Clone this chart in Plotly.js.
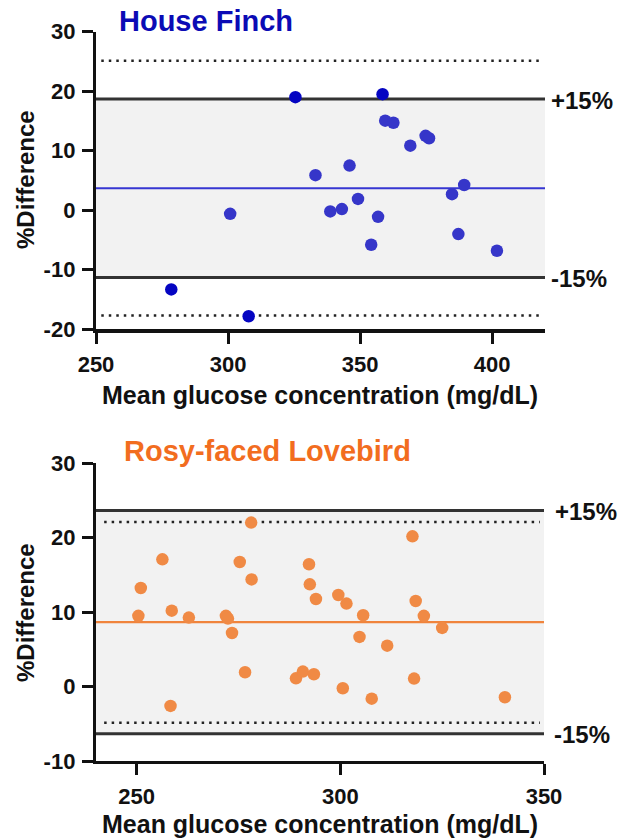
<!DOCTYPE html>
<html>
<head>
<meta charset="utf-8">
<script src="https://cdn.plot.ly/plotly-3.0.1.min.js"></script>
<style>html,body{margin:0;padding:0;background:#fff;}#chart{width:626px;height:840px;}</style>
</head>
<body>
<div id="chart"></div>
<script>
// ---- Data ----
const finchX = [278.5, 300.8, 307.8, 325.5, 333.1, 338.7, 343.1, 346.0, 349.2, 354.2, 356.8, 358.5, 359.5, 362.6, 369.0, 374.8, 376.1, 384.8, 389.4, 387.2, 401.8];
const finchY = [-13.3, -0.6, -17.8, 19.0, 5.9, -0.2, 0.2, 7.5, 1.9, -5.8, -1.1, 19.5, 15.05, 14.7, 10.85, 12.5, 12.1, 2.7, 4.25, -4.0, -6.8];
const finchMean = 3.7;
const finchLoA = [-17.7, 25.1];
const finchBand = [-11.3, 18.7];

const loveX = [250.4, 251.0, 256.3, 258.3, 258.6, 262.8, 271.9, 272.4, 273.4, 275.3, 276.6, 278.1, 278.2, 289.1, 290.8, 292.3, 292.5, 293.5, 294.0, 299.5, 300.6, 301.5, 304.7, 305.6, 307.7, 311.5, 317.7, 318.1, 318.5, 320.5, 325.0, 340.4];
const loveY = [9.5, 13.25, 17.1, -2.6, 10.2, 9.27, 9.5, 9.13, 7.2, 16.74, 1.92, 22.03, 14.4, 1.11, 2.01, 16.43, 13.74, 1.65, 11.77, 12.31, -0.23, 11.15, 6.67, 9.58, -1.62, 5.5, 20.19, 1.07, 11.5, 9.5, 7.88, -1.44];
const loveMean = 8.65;
const loveLoA = [-4.85, 22.1];
const loveBand = [-6.35, 23.65];

const bandLabels = ['-15%', '+15%'];
const finchXTicks = [250, 300, 350, 400];
const finchYTicks = [-20, -10, 0, 10, 20, 30];
const loveXTicks = [250, 300, 350];
const loveYTicks = [-10, 0, 10, 20, 30];
const finchXRange = [250, 420];
const finchYRange = [-20, 30];
const loveXRange = [240, 350];
const loveYRange = [-10, 30];

const titles = ['House Finch', 'Rosy-faced Lovebird'];
const xTitle = 'Mean glucose concentration (mg/dL)';
const yTitle = '%Difference';

// ---- Styles ----
const FONT = 'Liberation Sans, Arial, Helvetica, sans-serif';
const blueIn = '#3636c9', blueOut = '#0505c2', blueTitle = '#0b0bb5', blueLine = '#3636d2';
const orangePt = '#f08a45', orangeTitle = '#f26d1f', orangeLine = '#f0843c';
const W = 626, H = 840;

function colorFor(y, band, inside, outside) {
  return (y > band[1] || y < band[0]) ? outside : inside;
}

const traces = [
  {
    x: finchX, y: finchY, type: 'scatter', mode: 'markers', xaxis: 'x', yaxis: 'y',
    marker: {size: 12.5, color: finchY.map(v => colorFor(v, finchBand, blueIn, blueOut))},
    hoverinfo: 'skip', showlegend: false
  },
  {
    x: loveX, y: loveY, type: 'scatter', mode: 'markers', xaxis: 'x2', yaxis: 'y2',
    marker: {size: 12.5, color: loveY.map(v => colorFor(v, loveBand, orangePt, orangePt))},
    hoverinfo: 'skip', showlegend: false
  }
];

function hline(xr, yr, y, x0, x1, color, width, dash) {
  return {type: 'line', xref: xr, yref: yr, x0: x0, x1: x1, y0: y, y1: y,
          line: {color: color, width: width, dash: dash || 'solid'}, layer: 'below'};
}

const DOTS = '2.5px,5px';
const shapes = [
  {type: 'rect', xref: 'x', yref: 'y', x0: finchXRange[0], x1: finchXRange[1], y0: finchBand[0], y1: finchBand[1],
   fillcolor: '#f2f2f2', line: {width: 0}, layer: 'below'},
  hline('x', 'y', finchBand[1], finchXRange[0], finchXRange[1], '#333333', 3),
  hline('x', 'y', finchBand[0], finchXRange[0], finchXRange[1], '#333333', 3),
  hline('x', 'y', finchMean, finchXRange[0], finchXRange[1], blueLine, 2.2),
  hline('x', 'y', finchLoA[1], finchXRange[0] + 2, finchXRange[1] - 1, '#222222', 2.5, DOTS),
  hline('x', 'y', finchLoA[0], finchXRange[0] + 2, finchXRange[1] - 1, '#222222', 2.5, DOTS),

  {type: 'rect', xref: 'x2', yref: 'y2', x0: loveXRange[0], x1: loveXRange[1], y0: loveBand[0], y1: loveBand[1],
   fillcolor: '#f2f2f2', line: {width: 0}, layer: 'below'},
  hline('x2', 'y2', loveBand[1], loveXRange[0], loveXRange[1], '#333333', 3),
  hline('x2', 'y2', loveBand[0], loveXRange[0], loveXRange[1], '#333333', 3),
  hline('x2', 'y2', loveMean, loveXRange[0], loveXRange[1], orangeLine, 2.2),
  hline('x2', 'y2', loveLoA[1], loveXRange[0] + 2, loveXRange[1] - 1, '#222222', 2.5, DOTS),
  hline('x2', 'y2', loveLoA[0], loveXRange[0] + 2, loveXRange[1] - 1, '#222222', 2.5, DOTS)
];

const tickFont = {family: FONT, size: 22, color: '#111', weight: 'bold'};
function axis(range, ticks, domain, anchor) {
  return {
    range: range, domain: domain, anchor: anchor, tickmode: 'array', tickvals: ticks,
    ticktext: ticks.map(String), showgrid: false, zeroline: false, showline: true,
    linecolor: '#111', linewidth: 3.2, ticks: 'outside', ticklen: 11, tickwidth: 3, tickcolor: '#111',
    tickfont: tickFont, fixedrange: true, ticklabelstandoff: 2
  };
}

const xDom = [96 / W, 545 / W];
const yDomTop = [1 - 329.3 / H, 1 - 31.7 / H];
const yDomBot = [1 - 761 / H, 1 - 463.3 / H];

function txt(text, x, y, size, color, extra) {
  return Object.assign({text: text, x: x, y: y, xref: 'paper', yref: 'paper', showarrow: false,
    font: {family: FONT, size: size, color: color, weight: 'bold'}, xanchor: 'center', yanchor: 'middle'}, extra || {});
}

const annotations = [
  txt(titles[0], 117 / W, 1 - 21 / H, 29, blueTitle, {xanchor: 'left'}),
  txt(titles[1], 122 / W, 1 - 451 / H, 29, orangeTitle, {xanchor: 'left'}),
  txt(xTitle, 320 / W, 1 - 395 / H, 25, '#111'),
  txt(xTitle, 320 / W, 1 - 824 / H, 25, '#111'),
  txt(yTitle, 25 / W, 1 - 180 / H, 24, '#111', {textangle: -90}),
  txt(yTitle, 25 / W, 1 - 613 / H, 24, '#111', {textangle: -90}),
  txt(bandLabels[1], 549 / W, finchBand[1], 24, '#111', {xanchor: 'left', yref: 'y', yshift: -2}),
  txt(bandLabels[0], 549 / W, finchBand[0], 24, '#111', {xanchor: 'left', yref: 'y', yshift: -1}),
  txt(bandLabels[1], 553 / W, loveBand[1], 24, '#111', {xanchor: 'left', yref: 'y2', yshift: -1}),
  txt(bandLabels[0], 552 / W, loveBand[0], 24, '#111', {xanchor: 'left', yref: 'y2', yshift: -1})
];

const layout = {
  width: W, height: H,
  margin: {l: 0, r: 0, t: 0, b: 0},
  paper_bgcolor: '#ffffff', plot_bgcolor: 'rgba(0,0,0,0)',
  showlegend: false,
  xaxis: axis(finchXRange, finchXTicks, xDom, 'y'),
  yaxis: axis(finchYRange, finchYTicks, yDomTop, 'x'),
  xaxis2: axis(loveXRange, loveXTicks, [96 / W, 544 / W], 'y2'),
  yaxis2: axis(loveYRange, loveYTicks, yDomBot, 'x2'),
  shapes: shapes,
  annotations: annotations
};

Plotly.newPlot('chart', traces, layout, {displayModeBar: false, staticPlot: true});
</script>
</body>
</html>
